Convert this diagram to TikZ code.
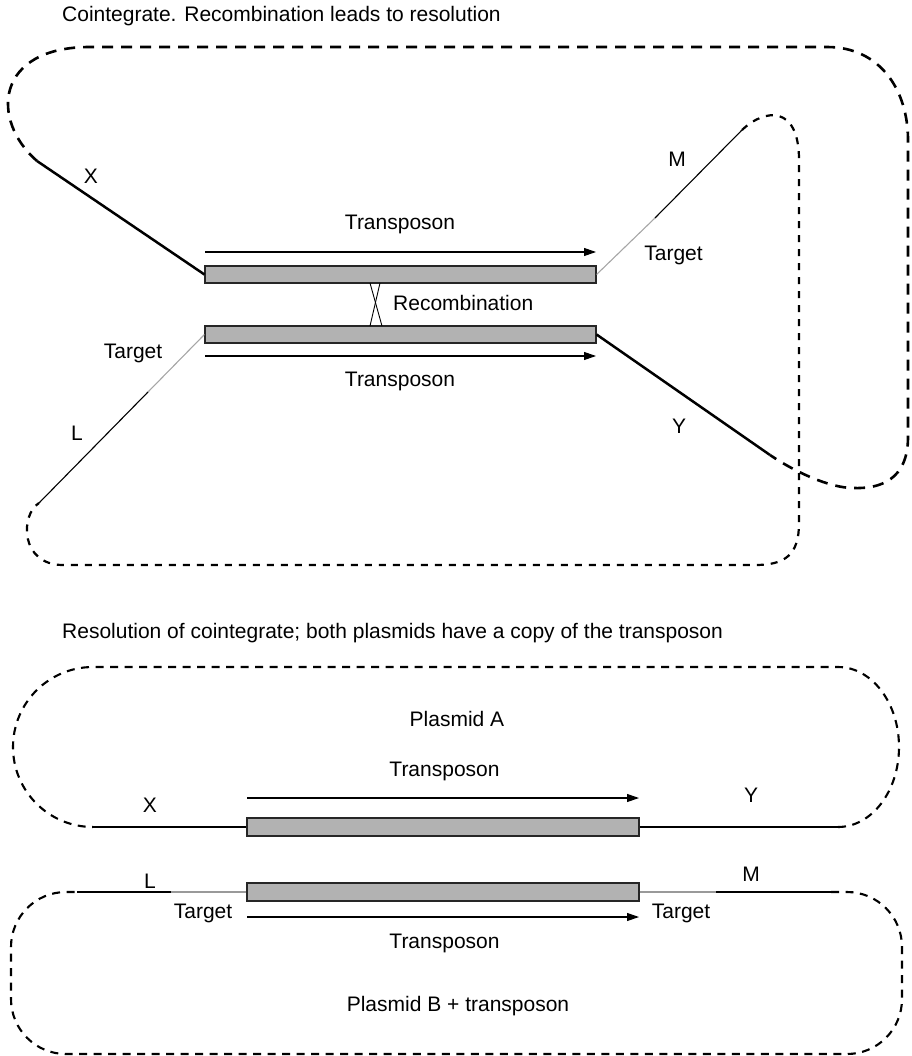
\documentclass[tikz,border=0pt]{standalone}
\usepackage{fontspec}
\setmainfont{Liberation Sans}
\usetikzlibrary{arrows.meta}
\begin{document}
\begin{tikzpicture}[x=1pt,y=-1pt,
  lbl/.style={font=\fontsize{21}{25}\selectfont, inner sep=0pt, anchor=base},
  ttl/.style={lbl, anchor=base west},
  tnbox/.style={draw=black!85, line width=1.1pt, fill=black!30, inner sep=0pt, minimum height=17pt},
  dirarrow/.style={line width=1.1pt, -{Triangle[length=12pt,width=8pt]}},
  thickdna/.style={line width=2.5pt},
  thindna/.style={line width=1.1pt},
  tgtthin/.style={line width=1.1pt, draw=black!35},
  tgtthick/.style={line width=2.5pt, draw=black!40},
  crossline/.style={line width=0.9pt},
  loopbig/.style={line width=2.6pt, dash pattern=on 11pt off 8pt},
  loopsmall/.style={line width=2.2pt, dash pattern=on 7pt off 7pt},
  loopplasmid/.style={line width=2.1pt, dash pattern=on 8pt off 6.5pt}
]
\useasboundingbox (0,0) rectangle (911,1056);

% ---------------- cointegrate ----------------
\node[ttl] (title1) at (62,22) {Cointegrate. Recombination leads to resolution};

\node[tnbox, minimum width=391pt] (tnA) at (400.5,274.5) {};
\node[tnbox, minimum width=391pt] (tnB) at (400.5,334.5) {};

% direction arrows of the two transposon copies
\coordinate (arA1) at (205,252);  \coordinate (arA2) at (596,252);
\coordinate (arB1) at (205,356);  \coordinate (arB2) at (596,356);
\draw[dirarrow] (arA1) -- (arA2);
\draw[dirarrow] (arB1) -- (arB2);
\node[lbl] (lTnA) at (400,230) {Transposon};
\node[lbl] (lTnB) at (400,386.5) {Transposon};

% crossover between the copies
\coordinate (cr1) at (370,283); \coordinate (cr2) at (382,326);
\coordinate (cr3) at (380,283); \coordinate (cr4) at (370,326);
\draw[crossline] (cr1) -- (cr2);
\draw[crossline] (cr3) -- (cr4);
\node[lbl, anchor=base west] (lRec) at (393,310.5) {Recombination};

% flanking DNA
\coordinate (xEnd) at (37,161);
\coordinate (yEnd) at (770,455);
\coordinate (mMid) at (655,218);
\coordinate (mEnd) at (742,130);
\coordinate (lMid) at (148,392);
\coordinate (lEnd) at (39,503);
\draw[thickdna] (xEnd) -- (tnA.west);
\draw[thickdna] (tnB.east) -- (yEnd);
\draw[tgtthin] (tnA.east) -- (mMid);
\draw[thindna] (mMid) -- (mEnd);
\draw[tgtthin] (tnB.west) -- (lMid);
\draw[thindna] (lMid) -- (lEnd);

\node[lbl] (lX1) at (91,184) {X};
\node[lbl] (lM1) at (677,167) {M};
\node[lbl] (lT1) at (673.5,261) {Target};
\node[lbl] (lT2) at (133,358) {Target};
\node[lbl] (lL1) at (77,440.5) {L};
\node[lbl] (lY1) at (679,433) {Y};

% plasmid backbones
\draw[loopbig] (xEnd) .. controls (-10,120) and (-5,47) .. (90,47)
  -- (827,47) .. controls (880,47) and (908,90) .. (908,140)
  -- (908,437) .. controls (908,480) and (880,489) .. (853,488)
  .. controls (830,488) and (795,472) .. (yEnd);
\draw[loopsmall] (mEnd) .. controls (765,108) and (799,105) .. (799,160)
  -- (799,523) .. controls (799,555) and (785,565) .. (755,565)
  -- (63,565) .. controls (20,565) and (20,515) .. (lEnd);

% ---------------- resolution ----------------
\node[ttl] (title2) at (62,638) {Resolution of cointegrate; both plasmids have a copy of the transposon};

\node[tnbox, minimum width=392pt, minimum height=18pt] (pnA) at (443,827) {};
\node[tnbox, minimum width=392pt, minimum height=18pt] (pnB) at (443,892) {};

\coordinate (arC1) at (247,798);  \coordinate (arC2) at (639,798);
\coordinate (arD1) at (247,917);  \coordinate (arD2) at (639,917);
\draw[dirarrow] (arC1) -- (arC2);
\draw[dirarrow] (arD1) -- (arD2);

% plasmid A
\coordinate (xaEnd) at (93,827);
\coordinate (yaEnd) at (838,827);
\draw[thickdna] (xaEnd) -- (pnA.west);
\draw[thickdna] (pnA.east) -- (yaEnd);
\draw[loopplasmid] (yaEnd) arc[start angle=90, end angle=-90, x radius=61, y radius=80]
  -- (93,667) arc[start angle=270, end angle=90, radius=80];

\node[lbl] (lPA) at (457,726.5) {Plasmid A};
\node[lbl] (lTnC) at (444.5,776.5) {Transposon};
\node[lbl] (lX2) at (150,812) {X};
\node[lbl] (lY2) at (751,802) {Y};

% plasmid B
\coordinate (lbEnd) at (77,892);
\coordinate (lbMid) at (171,892);
\coordinate (mbMid) at (716,892);
\coordinate (mbEnd) at (831,892);
\draw[thickdna] (lbEnd) -- (lbMid);
\draw[tgtthick] (lbMid) -- (pnB.west);
\draw[tgtthick] (pnB.east) -- (mbMid);
\draw[thickdna] (mbMid) -- (mbEnd);
\draw[loopplasmid, rounded corners=55pt] (mbEnd) -- (902,892) -- (902,1054)
  -- (11,1054) -- (11,892) -- (lbEnd);

\node[lbl] (lL2) at (150,888) {L};
\node[lbl] (lM2) at (751,881) {M};
\node[lbl] (lT3) at (203,918) {Target};
\node[lbl] (lT4) at (681,918) {Target};
\node[lbl] (lTnD) at (444.5,948) {Transposon};
\node[lbl] (lPB) at (458,1011.5) {Plasmid B + transposon};
\end{tikzpicture}
\end{document}
